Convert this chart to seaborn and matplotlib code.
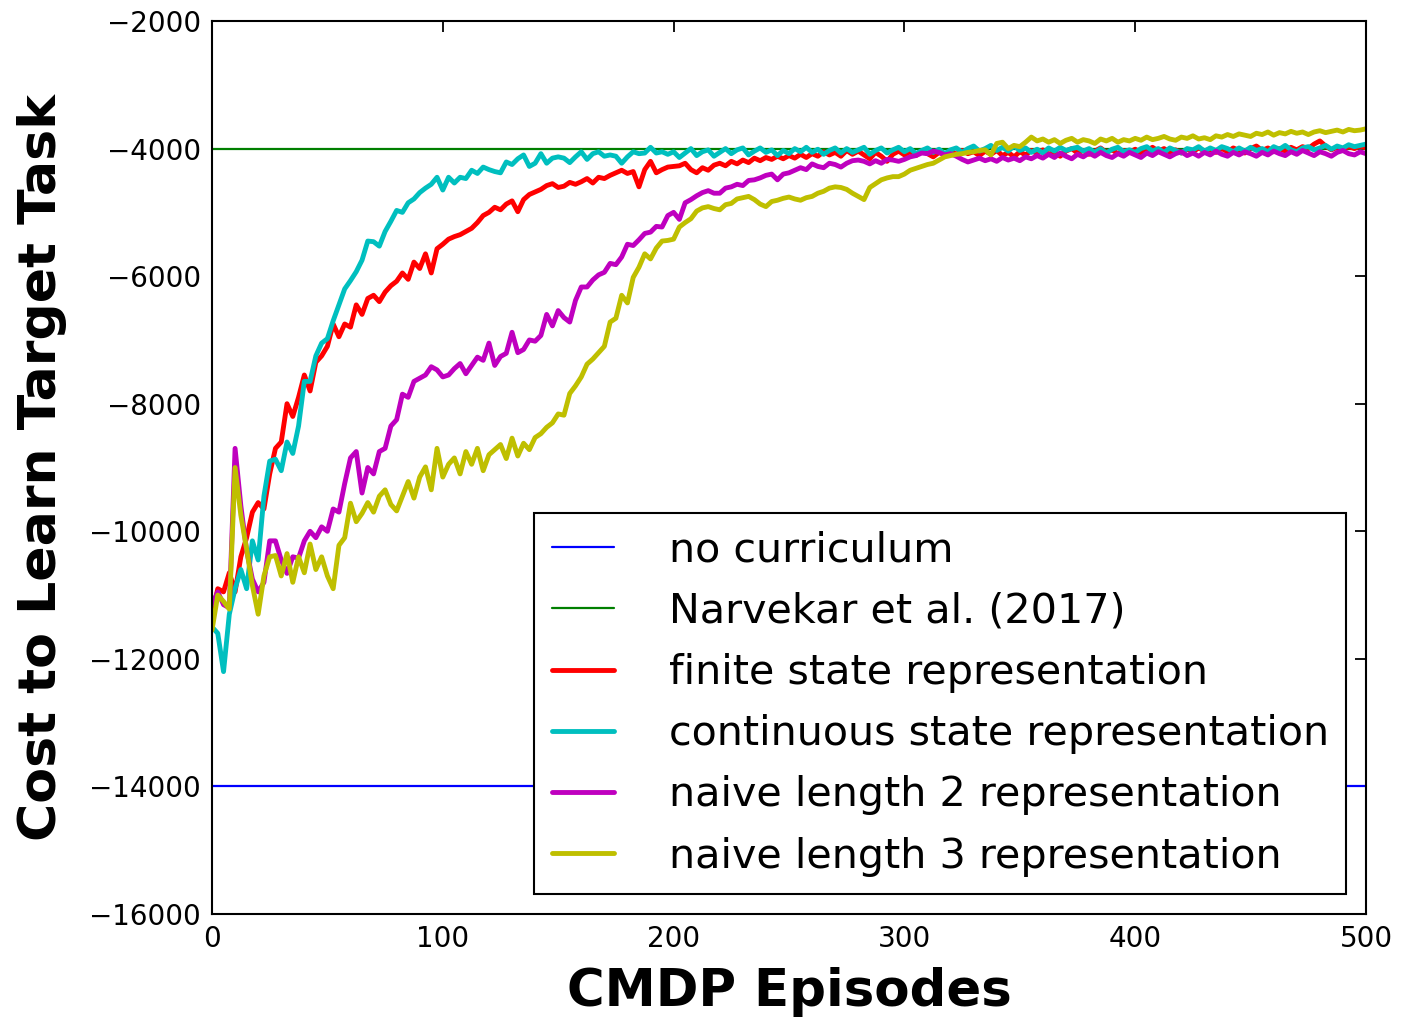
import numpy as np
import pandas as pd
import matplotlib
matplotlib.use("Agg")
import matplotlib.pyplot as plt
import seaborn as sns

# ---------------- data ----------------
# one value every 2.5 CMDP episodes, 0 .. 500
episodes = [i * 2.5 for i in range(201)]

no_curriculum_cost = -14000
narvekar_cost = -4000

finite_state = [
    -11300, -10900, -10950, -10650, -10950, -10400, -10100, -9700, -9550, -9650,
    -9100, -8700, -8600, -8000, -8200, -7900, -7550, -7800, -7350, -7250,
    -7100, -6750, -6950, -6750, -6800, -6450, -6600, -6350, -6300, -6400,
    -6250, -6150, -6080, -5950, -6050, -5780, -5880, -5650, -5950, -5570,
    -5500, -5420, -5380, -5350, -5300, -5250, -5160, -5050, -5000, -4920,
    -4960, -4870, -4820, -4990, -4800, -4720, -4680, -4640, -4580, -4550,
    -4610, -4590, -4530, -4560, -4520, -4470, -4540, -4450, -4470, -4420,
    -4380, -4340, -4390, -4360, -4600, -4330, -4200, -4380, -4330, -4290,
    -4280, -4270, -4230, -4330, -4380, -4300, -4340, -4260, -4230, -4270,
    -4200, -4240, -4180, -4220, -4150, -4190, -4140, -4170, -4120, -4160,
    -4110, -4150, -4090, -4140, -4080, -4120, -4050, -4100, -4060, -4120,
    -4030, -4090, -4040, -4100, -4160, -4060, -4120, -4200, -4090, -4040,
    -4100, -4050, -4110, -4040, -4080, -4130, -4060, -4100, -4040, -4090,
    -4030, -4080, -4050, -4110, -4040, -4090, -4030, -4110, -4060, -4130,
    -4050, -4100, -4030, -4080, -4020, -4090, -4050, -4120, -4040, -4000,
    -4070, -4030, -4090, -4040, -3990, -4060, -4020, -4080, -4030, -4060,
    -4010, -4070, -4030, -3980, -4040, -4000, -4060, -4020, -4070, -4010,
    -4050, -3990, -4040, -4010, -4060, -4000, -4050, -3990, -4030, -4070,
    -4000, -3960, -4030, -3990, -4050, -4000, -4040, -3980, -4020, -3970,
    -4000, -3930, -3880, -3960, -4020, -3980, -4010, -3970, -4000, -3960,
    -3990,
]

continuous_state = [
    -11500, -11600, -12200, -11300, -10900, -10600, -10900, -10150, -10450, -9450,
    -8900, -8870, -9050, -8600, -8780, -8350, -7650, -7650, -7250, -7050,
    -6980, -6700, -6450, -6200, -6070, -5930, -5750, -5450, -5460, -5530,
    -5300, -5140, -4970, -5000, -4850, -4790, -4690, -4620, -4560, -4450,
    -4650, -4450, -4540, -4450, -4470, -4340, -4390, -4290, -4330, -4360,
    -4380, -4210, -4250, -4160, -4100, -4280, -4230, -4080, -4230, -4150,
    -4130, -4150, -4220, -4130, -4050, -4170, -4080, -4050, -4120, -4100,
    -4120, -4230, -4130, -4050, -4080, -4070, -3980, -4070, -4050, -4090,
    -4050, -4140, -4070, -4000, -4110, -4050, -4020, -4120, -4060, -4000,
    -4080, -4020, -3990, -4100, -4040, -3990, -4060, -4020, -4110, -4030,
    -4080, -4000, -4050, -3980, -4060, -4010, -4090, -4030, -3990, -4070,
    -4000, -4060, -4020, -3980, -4090, -4030, -3990, -4070, -4020, -3980,
    -4050, -4000, -4080, -4030, -3990, -4060, -4010, -4080, -4020, -3990,
    -4060, -4000, -3960, -4040, -4000, -3950, -4030, -3980, -4040, -3960,
    -4030, -3990, -4060, -4010, -4070, -3990, -4040, -3980, -4030, -4000,
    -3980, -4040, -4000, -4060, -4000, -4070, -4010, -3980, -4050, -4020,
    -4060, -4000, -3970, -4040, -4000, -4060, -3990, -4030, -4070, -4000,
    -4020, -3970, -4040, -3990, -4030, -3970, -4000, -4050, -3990, -4040,
    -3980, -4030, -4000, -4050, -3970, -4010, -3950, -4020, -4050, -3990,
    -3970, -4020, -3990, -3950, -4010, -3960, -3990, -3940, -3970, -3950,
    -3930,
]

naive_length2 = [
    -11150, -10950, -11150, -11200, -8700, -9600, -10300, -10750, -10950, -10800,
    -10150, -10150, -10450, -10660, -10400, -10420, -10150, -10000, -10100, -9930,
    -10000, -9650, -9700, -9250, -8850, -8750, -9400, -9000, -9100, -8750,
    -8700, -8350, -8250, -7850, -7900, -7650, -7600, -7550, -7420, -7470,
    -7580, -7550, -7450, -7370, -7530, -7400, -7270, -7320, -7050, -7400,
    -7260, -7210, -6880, -7200, -7150, -7000, -7020, -6930, -6600, -6780,
    -6540, -6650, -6720, -6380, -6170, -6170, -6060, -5980, -5940, -5800,
    -5820, -5700, -5500, -5520, -5430, -5330, -5310, -5220, -5230, -5050,
    -5000, -5110, -4850, -4800, -4740, -4690, -4660, -4700, -4700, -4620,
    -4600, -4560, -4580, -4500, -4490, -4460, -4420, -4400, -4490, -4400,
    -4380, -4340, -4300, -4330, -4240, -4280, -4300, -4230, -4250, -4290,
    -4230, -4190, -4180, -4200, -4240, -4190, -4230, -4170, -4180, -4200,
    -4170, -4130, -4110, -4070, -4080, -4040, -4060, -4100, -4080, -4120,
    -4170, -4210, -4180, -4150, -4190, -4160, -4200, -4140, -4180, -4150,
    -4190, -4130, -4160, -4110, -4150, -4090, -4140, -4070, -4120, -4160,
    -4090, -4130, -4070, -4120, -4060, -4110, -4140, -4080, -4120, -4060,
    -4100, -4140, -4070, -4110, -4050, -4090, -4130, -4080, -4050, -4110,
    -4070, -4120, -4060, -4100, -4040, -4090, -4120, -4060, -4100, -4050,
    -4080, -4120, -4060, -4100, -4040, -4080, -4110, -4050, -4090, -4030,
    -4070, -4110, -4050, -4080, -4120, -4060, -4030, -4080, -4100, -4050,
    -4080,
]

naive_length3 = [
    -11550, -11000, -11100, -11220, -9000, -9750, -10280, -10850, -11300, -10700,
    -10400, -10380, -10700, -10350, -10800, -10400, -10650, -10200, -10600, -10400,
    -10700, -10900, -10220, -10100, -9560, -9850, -9720, -9550, -9700, -9450,
    -9350, -9580, -9680, -9450, -9220, -9480, -9150, -8990, -9350, -8700,
    -9150, -8950, -8850, -9100, -8750, -8950, -8700, -9050, -8800, -8720,
    -8640, -8860, -8540, -8820, -8620, -8720, -8530, -8470, -8370, -8300,
    -8160, -8180, -7840, -7720, -7580, -7380, -7300, -7200, -7100, -6720,
    -6660, -6300, -6420, -6020, -5860, -5650, -5730, -5560, -5450, -5440,
    -5420, -5230, -5160, -5100, -4980, -4930, -4910, -4940, -4960, -4880,
    -4860, -4790, -4770, -4750, -4800, -4870, -4910, -4830, -4810, -4780,
    -4760, -4790, -4810, -4770, -4750, -4700, -4670, -4620, -4600, -4610,
    -4640, -4700, -4750, -4800, -4610, -4550, -4490, -4460, -4440, -4440,
    -4400, -4340, -4310, -4280, -4250, -4230, -4180, -4130, -4110, -4090,
    -4080, -4060, -4050, -4030, -4020, -4100, -3920, -3900, -4000, -3950,
    -3970, -3900, -3820, -3880, -3850, -3900, -3860, -3920, -3870, -3840,
    -3900, -3860, -3880, -3920, -3850, -3880, -3840, -3900, -3860, -3880,
    -3840, -3870, -3820, -3860, -3840, -3810, -3850, -3870, -3820, -3840,
    -3800, -3850, -3830, -3860, -3800, -3820, -3780, -3810, -3770, -3790,
    -3810, -3760, -3780, -3740, -3790, -3750, -3770, -3730, -3760, -3740,
    -3780, -3740, -3720, -3750, -3730, -3710, -3740, -3700, -3720, -3710,
    -3690,
]

series_labels = [
    "finite state representation",
    "continuous state representation",
    "naive length 2 representation",
    "naive length 3 representation",
]
series_values = [finite_state, continuous_state, naive_length2, naive_length3]
series_colors = ["#ff0000", "#00bfbf", "#bf00bf", "#bfbf00"]

x_ticks = [0, 100, 200, 300, 400, 500]
y_ticks = [-16000, -14000, -12000, -10000, -8000, -6000, -4000, -2000]

# ---------------- style ----------------
sns.set_theme(style="white")
plt.rcParams["font.family"] = ["DejaVu Sans"]
plt.rcParams["text.color"] = "black"
plt.rcParams["axes.labelcolor"] = "black"
plt.rcParams["xtick.color"] = "black"
plt.rcParams["ytick.color"] = "black"
plt.rcParams["xtick.direction"] = "in"
plt.rcParams["ytick.direction"] = "in"
plt.rcParams["axes.unicode_minus"] = True

fig = plt.figure(figsize=(14.01, 10.18), dpi=100)
ax = fig.add_axes([212 / 1401, 1 - 914 / 1018, (1366 - 212) / 1401, (914 - 21) / 1018])

ax.axhline(no_curriculum_cost, color="#0000ff", lw=1.6, label="no curriculum", zorder=1)
ax.axhline(narvekar_cost, color="#007f00", lw=1.6, label="Narvekar et al. (2017)", zorder=1)

for lab, vals, col in zip(series_labels, series_values, series_colors):
    n = min(len(episodes), len(vals))
    df = pd.DataFrame({"episode": episodes[:n], "cost": vals[:n]})
    sns.lineplot(data=df, x="episode", y="cost", ax=ax, color=col, lw=3.5,
                 label=lab, zorder=2)

ax.set_xlim(0, 500)
ax.set_ylim(-16000, -2000)
ax.set_xticks(x_ticks)
ax.set_yticks(y_ticks)
ax.tick_params(axis="both", which="major", labelsize=20, length=8, width=1.3,
               direction="in", top=True, right=True, pad=8,
               colors="black", labelcolor="black")
for sp in ax.spines.values():
    sp.set_visible(True)
    sp.set_color("black")
    sp.set_linewidth(1.5)

ax.set_xlabel("CMDP Episodes", fontsize=37, fontweight="bold", labelpad=10,
              color="black")
ax.set_ylabel("Cost to Learn Target Task", fontsize=37.5, fontweight="bold",
              labelpad=16, color="black")

leg = ax.legend(loc="lower right", fontsize=29.7, frameon=True, fancybox=False,
                edgecolor="black", framealpha=1, handlelength=1.5, handletextpad=1.33,
                borderpad=0.42, labelspacing=0.515, borderaxespad=0,
                bbox_to_anchor=((1346 - 212) / 1154, (914 - 894) / 893))
leg.get_frame().set_linewidth(1.5)
for t in leg.get_texts():
    t.set_color("black")

fig.savefig("out.png", dpi=100)
